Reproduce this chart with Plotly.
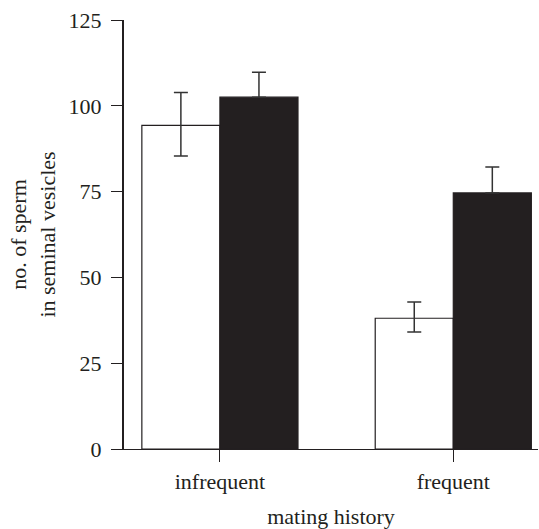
import plotly.graph_objects as go

categories = ["infrequent", "frequent"]
white_values = [94.3, 38.1]
white_err_plus = [9.6, 4.7]
white_err_minus = [8.9, 4.0]
black_values = [102.5, 74.6]
black_err_plus = [7.3, 7.6]
black_err_minus = [0, 0]
y_ticks = [0, 25, 50, 75, 100, 125]

ink = "#231f20"
font = dict(family="Liberation Serif, Times New Roman, serif", size=22, color=ink)

fig = go.Figure()
fig.add_trace(go.Bar(
    x=categories, y=white_values,
    marker=dict(color="white", line=dict(color=ink, width=1.2)),
    error_y=dict(type="data", array=white_err_plus, arrayminus=white_err_minus,
                 symmetric=False, color="#333333", thickness=1.5, width=7),
    showlegend=False,
))
fig.add_trace(go.Bar(
    x=categories, y=black_values,
    marker=dict(color=ink, line=dict(color=ink, width=1.2)),
    error_y=dict(type="data", array=black_err_plus, arrayminus=black_err_minus,
                 symmetric=False, color="#333333", thickness=1.5, width=7),
    showlegend=False,
))

fig.update_layout(
    width=539, height=529,
    margin=dict(l=124, r=1, t=20, b=80),
    barmode="group", bargap=0.331, bargroupgap=0,
    plot_bgcolor="white", paper_bgcolor="white",
    font=font,
    xaxis=dict(
        type="category", range=[-0.411, 1.363], automargin=False,
        showline=True, linecolor=ink, linewidth=1.3,
        ticks="outside", ticklen=12, tickwidth=1.3, tickcolor=ink,
        showgrid=False, zeroline=False,
        title=dict(text="mating history", standoff=18, font=font),
        tickfont=font,
    ),
    yaxis=dict(
        range=[0, 125], tickvals=y_ticks, automargin=False,
        showline=True, linecolor=ink, linewidth=2,
        ticks="outside", ticklen=11, tickwidth=1.3, tickcolor=ink,
        ticklabelstandoff=5,
        showgrid=False, zeroline=False,
        title=dict(text="no. of sperm<br>in seminal vesicles", standoff=7, font=font),
        tickfont=font,
    ),
)

fig.write_html("out.html", config={"displayModeBar": False},
               post_script="document.body.style.margin='0';document.body.style.overflow='hidden';")
